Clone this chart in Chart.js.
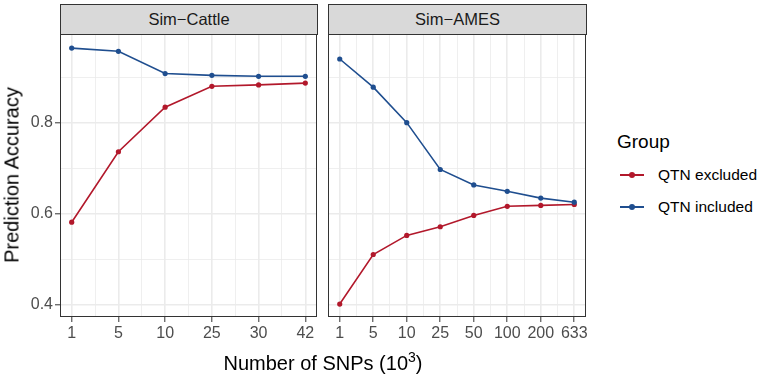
<!DOCTYPE html>
<html>
<head>
<meta charset="utf-8">
<script src="https://cdn.jsdelivr.net/npm/chart.js@4/dist/chart.umd.min.js"></script>
<style>
  body { margin: 0; background: #fff; font-family: "Liberation Sans", Arial, sans-serif; }
  #wrap { position: relative; width: 765px; height: 377px; overflow: hidden; }
  .pane { position: absolute; top: 0; }
  .strip { position: absolute; top: 4px; height: 29px; background: #D9D9D9; border: 1px solid #333;
           box-sizing: content-box; text-align: center; line-height: 29px; font-size: 16.5px; color: #1A1A1A; }
  .title { position: absolute; font-size: 20px; color: #000; white-space: nowrap; }
  .key { position: absolute; width: 24px; height: 2px; }
  .key span { position: absolute; left: 9px; top: -2px; width: 6px; height: 6px; border-radius: 50%; }
  .lab { position: absolute; font-size: 15.5px; color: #000; white-space: nowrap; }
</style>
</head>
<body>
<div id="wrap">
  <div class="pane" style="left:0"><canvas id="cattleChart" width="320" height="377"></canvas></div>
  <div class="pane" style="left:320px"><canvas id="amesChart" width="270" height="377"></canvas></div>
  <div class="strip" style="left:60px;width:256px">Sim−Cattle</div>
  <div class="strip" style="left:328px;width:257px">Sim−AMES</div>
  <div class="title" style="left:12px;top:175px;transform:translate(-50%,-50%) rotate(-90deg)">Prediction Accuracy</div>
  <div class="title" style="left:323px;top:362px;transform:translate(-50%,-50%)">Number of SNPs (10<sup style="font-size:14px">3</sup>)</div>
  <div class="title" style="left:617px;top:131px;font-size:19px">Group</div>
  <div class="key" style="left:620px;top:174px;background:#B2182B"><span style="background:#B2182B"></span></div>
  <div class="lab" style="left:658px;top:166px">QTN excluded</div>
  <div class="key" style="left:620px;top:206px;background:#1F4E8F"><span style="background:#1F4E8F"></span></div>
  <div class="lab" style="left:658px;top:198px">QTN included</div>
</div>
<script>
const cattleLabels = ['1', '5', '10', '25', '30', '42'];
const cattleExcluded = [0.581, 0.736, 0.834, 0.880, 0.883, 0.887];
const cattleIncluded = [0.964, 0.957, 0.908, 0.904, 0.902, 0.902];

const amesLabels = ['1', '5', '10', '25', '50', '100', '200', '633'];
const amesExcluded = [0.401, 0.510, 0.552, 0.571, 0.596, 0.616, 0.618, 0.620];
const amesIncluded = [0.940, 0.878, 0.800, 0.697, 0.663, 0.649, 0.634, 0.625];

const yMajor = [0.4, 0.6, 0.8];
const yMinor = [0.5, 0.7, 0.9];

const RED = '#B2182B';
const BLUE = '#1F4E8F';
const FONT = '"Liberation Sans", Arial, sans-serif';

const isMajorY = v => yMajor.some(m => Math.abs(m - v) < 1e-6);
const isMajorX = v => Math.abs(v - Math.round(v)) < 1e-6;

// draws the full panel border like ggplot's theme_bw
const panelFrame = {
    id: 'panelFrame',
    afterDraw(chart) {
        const a = chart.chartArea;
        const ctx = chart.ctx;
        ctx.save();
        ctx.strokeStyle = '#333';
        ctx.lineWidth = 1;
        ctx.strokeRect(Math.round(a.left) + 0.5, Math.round(a.top) + 0.5,
            Math.round(a.right - a.left) - 1, Math.round(a.bottom - a.top) - 1);
        ctx.restore();
    }
};

function makeSeries(label, values, color) {
    return {
        label: label,
        data: values.map((v, i) => ({ x: i, y: v })),
        borderColor: color,
        backgroundColor: color,
        borderWidth: 1.6,
        pointRadius: 2.6,
        pointHoverRadius: 2.6,
        pointBorderWidth: 0,
        tension: 0
    };
}

function makePanel(id, labels, excluded, included, showY) {
    const n = labels.length - 1;
    const pad = n * 0.05;
    const ctx = document.getElementById(id).getContext('2d');
    return new Chart(ctx, {
        type: 'line',
        data: {
            datasets: [
                makeSeries('QTN included', included, BLUE),
                makeSeries('QTN excluded', excluded, RED)
            ]
        },
        options: {
            responsive: false,
            animation: false,
            layout: { padding: { top: 34, right: showY ? 3 : 4, left: showY ? 0 : 8, bottom: 0 } },
            plugins: { legend: { display: false }, tooltip: { enabled: false } },
            scales: {
                x: {
                    type: 'linear',
                    min: -pad,
                    max: n + pad,
                    afterBuildTicks: s => {
                        const t = [];
                        for (let v = 0; v <= n + 1e-9; v += 0.5) t.push({ value: v });
                        s.ticks = t;
                    },
                    afterFit: s => { s.height = 60; },
                    border: { display: false },
                    grid: {
                        color: '#EBEBEB',
                        lineWidth: c => isMajorX(c.tick.value) ? 1.6 : 0.8,
                        tickLength: 5,
                        tickColor: c => isMajorX(c.tick.value) ? '#333' : 'rgba(0,0,0,0)',
                        tickWidth: 1
                    },
                    ticks: {
                        autoSkip: false,
                        maxRotation: 0,
                        padding: 2,
                        color: '#4D4D4D',
                        font: { family: FONT, size: 16 },
                        callback: v => isMajorX(v) ? labels[Math.round(v)] : ''
                    }
                },
                y: {
                    type: 'linear',
                    min: 0.3725,
                    max: 0.995,
                    afterBuildTicks: s => {
                        s.ticks = [0.4, 0.5, 0.6, 0.7, 0.8, 0.9].map(v => ({ value: v }));
                    },
                    afterFit: s => { s.width = showY ? 60 : 0; },
                    border: { display: false },
                    grid: {
                        color: '#EBEBEB',
                        lineWidth: c => isMajorY(c.tick.value) ? 1.6 : 0.8,
                        drawTicks: showY,
                        tickLength: 5,
                        tickColor: c => isMajorY(c.tick.value) ? '#333' : 'rgba(0,0,0,0)',
                        tickWidth: 1
                    },
                    ticks: {
                        display: showY,
                        autoSkip: false,
                        padding: 2,
                        color: '#4D4D4D',
                        font: { family: FONT, size: 16 },
                        callback: v => isMajorY(v) ? v.toFixed(1) : ''
                    }
                }
            }
        },
        plugins: [panelFrame]
    });
}

makePanel('cattleChart', cattleLabels, cattleExcluded, cattleIncluded, true);
makePanel('amesChart', amesLabels, amesExcluded, amesIncluded, false);
</script>
</body>
</html>
